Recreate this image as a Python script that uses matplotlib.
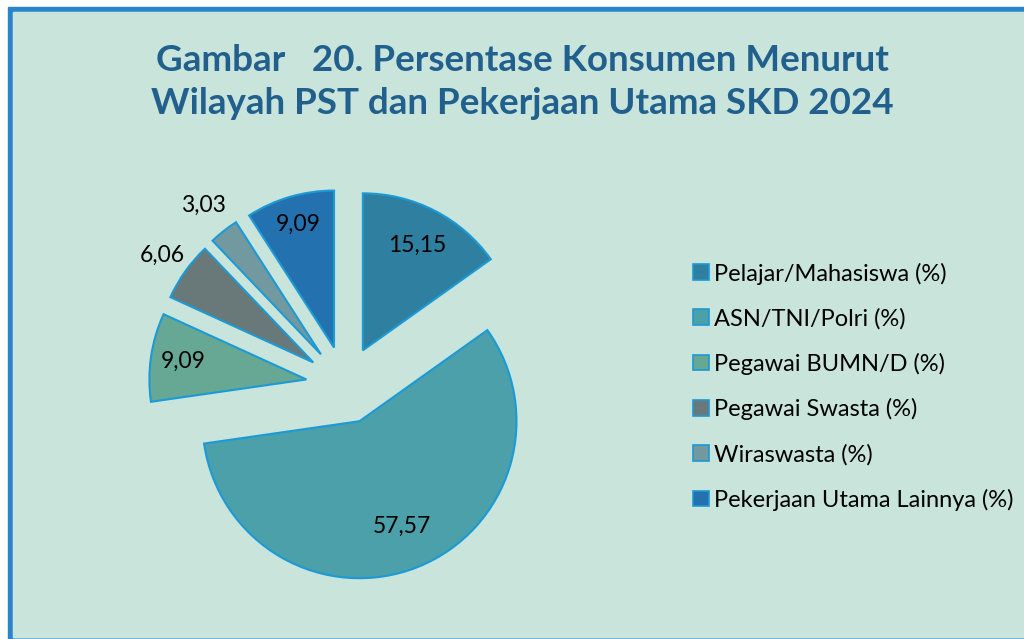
"""Pie: consumers by main occupation, SKD 2024 (Gambar 20)."""

import matplotlib

matplotlib.use('Agg')
import matplotlib.pyplot as plt
from matplotlib.patches import Rectangle
import numpy as np

# ----- data --------------------------------------------------------------
categories = ['Pelajar/Mahasiswa (%)', 'ASN/TNI/Polri (%)', 'Pegawai BUMN/D (%)',
              'Pegawai Swasta (%)', 'Wiraswasta (%)', 'Pekerjaan Utama Lainnya (%)']
values = [15.15, 57.57, 9.09, 6.06, 3.03, 9.09]
value_labels = ['15,15', '57,57', '9,09', '6,06', '3,03', '9,09']
title = 'Gambar   20. Persentase Konsumen Menurut\nWilayah PST dan Pekerjaan Utama SKD 2024'

# ----- style -------------------------------------------------------------
W, H = 1024, 639
BG = '#C8E4DB'
BORDER = '#2A84C9'
TITLE_COLOR = '#215F8D'
COLORS = ['#2E7FA0', '#4BA0AA', '#66A894', '#697878', '#7399A0', '#2471B0']
EDGE = '#1B9AD6'
CENTER = (345, H - 385)   # pixel coords, y flipped
RADIUS = 157
EXPLODE = 39
LABEL_DIST = [0.75, 0.72, 0.79, 1.18, 1.21, 0.82]   # from wedge apex, x radius
FONT = ['Lato', 'DejaVu Sans']
# -------------------------------------------------------------------------

plt.rcParams['font.family'] = FONT

fig = plt.figure(figsize=(W / 100, H / 100), dpi=100, facecolor='white')

# frame: blue top/left border, thin light line at the bottom
for rect, col in [((8, 0, W, H - 7), BORDER),
                  ((13, 0, W, H - 12), '#5BB0E0'),
                  ((13, 2, W, H - 14), BG)]:
    x, y, w, h = rect
    fig.patches.append(Rectangle((x / W, y / H), w / W, h / H, transform=fig.transFigure,
                                 color=col, zorder=-5))

ax = fig.add_axes([0, 0, 1, 1])
ax.patch.set_alpha(0)

wedges, _ = ax.pie(values, colors=COLORS, startangle=90, counterclock=False,
                   radius=RADIUS, center=CENTER, explode=[EXPLODE] * len(values),
                   wedgeprops=dict(edgecolor=EDGE, linewidth=1.5))

for w, lab, d in zip(wedges, value_labels, LABEL_DIST):
    th = np.deg2rad((w.theta1 + w.theta2) / 2)
    cx, cy = w.center
    ax.text(cx + d * RADIUS * np.cos(th), cy + d * RADIUS * np.sin(th), lab,
            ha='center', va='center', fontsize=16.5, color='black')

ax.set_xlim(0, W)
ax.set_ylim(0, H)
ax.set_aspect('equal')
ax.axis('off')

fig.text(522 / W, 1 - 82 / H, title, ha='center', va='center', fontsize=26.5,
         fontweight='bold', color=TITLE_COLOR, linespacing=1.4)

leg = ax.legend(wedges, categories, loc='upper left', bbox_to_anchor=(684 / W, 1 - 253 / H),
                frameon=False, fontsize=17, handlelength=0.65, handleheight=0.65,
                handletextpad=0.2, labelspacing=0.99, borderaxespad=0)
for h in leg.legend_handles:
    h.set_linewidth(1.2)

fig.savefig('out.png', dpi=100, facecolor=fig.get_facecolor())
